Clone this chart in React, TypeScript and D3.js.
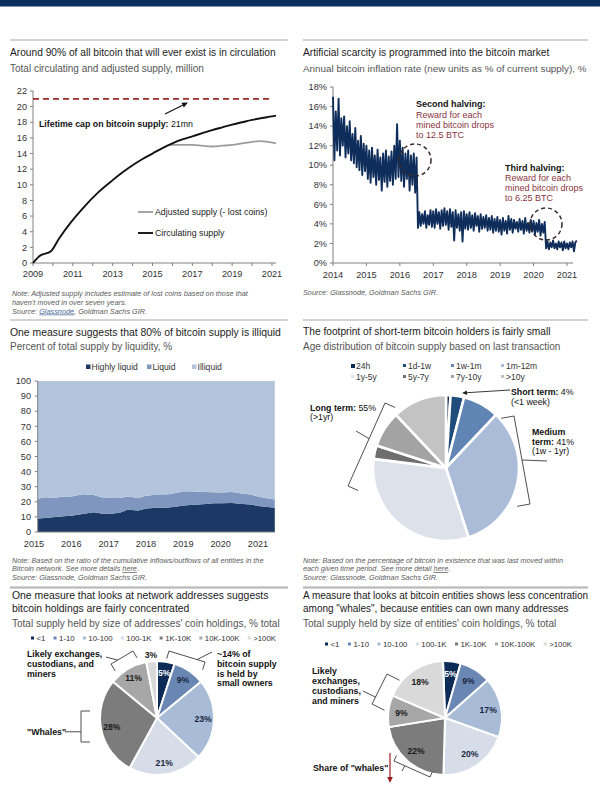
import React from 'react';
import * as d3 from 'd3';

const FONT = '"Liberation Sans", Arial, Helvetica, sans-serif';
const TITLE_C = '#1b1b1b';
const SUB_C = '#555555';
const NOTE_C = '#5a5a5a';
const AXIS_C = '#808080';
const TICK_C = '#333333';
const MAROON = '#8a3442';

// ---------- Chart 1: supply ----------
const supplyYears = [2009, 2009.33, 2009.9, 2010.3, 2010.9, 2011.5, 2012.3, 2013.0, 2013.5, 2014.0, 2014.5, 2015.0, 2015.5, 2016.0, 2016.5, 2017.0, 2017.5, 2018.0, 2018.5, 2019.0, 2019.5, 2020.0, 2020.5, 2021.0, 2021.2];
const circulatingSupply = [0, 0.9, 1.5, 3.1, 5.2, 7.0, 9.1, 10.6, 11.6, 12.5, 13.3, 14.0, 14.7, 15.3, 15.8, 16.2, 16.6, 17.0, 17.35, 17.7, 18.0, 18.3, 18.55, 18.75, 18.85];
const adjustedYears = [2015.8, 2016.2, 2016.6, 2017.0, 2017.5, 2018.0, 2018.5, 2019.0, 2019.5, 2020.0, 2020.4, 2020.8, 2021.2];
const adjustedSupply = [15.1, 15.1, 15.1, 15.1, 15.0, 14.9, 15.0, 15.1, 15.3, 15.5, 15.6, 15.5, 15.3];
const supplyCap = 21;
const supplyYTicks = [0, 2, 4, 6, 8, 10, 12, 14, 16, 18, 20, 22];
const supplyXTicks = [2009, 2011, 2013, 2015, 2017, 2019, 2021];

// ---------- Chart 2: inflation (half-monthly peaks/troughs from 2014) ----------
const inflationStart = 2014;
const inflationPerYear = 24;
const inflationRate = [
  17.0, 10.5, 15.5, 11.5, 16.8, 11.0, 14.8, 12.0, 15.0, 10.8, 14.0, 11.2, 14.5, 10.5, 13.2, 10.2, 13.8, 9.8, 12.5, 9.5, 13.0, 9.0, 12.2, 9.4,
  12.0, 8.6, 11.5, 8.2, 11.8, 8.8, 11.0, 8.0, 11.6, 8.5, 10.8, 7.4, 11.2, 8.3, 11.5, 7.8, 10.9, 8.4, 11.4, 8.0, 12.0, 8.6, 14.2, 8.8,
  12.5, 8.4, 11.8, 7.8, 11.2, 8.6, 11.5, 7.4, 11.0, 8.0, 11.2, 7.2, 10.8, 3.6, 5.2, 3.8, 5.0, 4.0, 5.3, 3.6, 4.9, 3.9, 5.4, 3.7,
  5.3, 3.6, 5.5, 4.0, 5.2, 3.5, 5.4, 3.8, 5.6, 3.9, 5.3, 3.4, 5.5, 3.7, 5.2, 2.3, 5.4, 3.6, 5.0, 3.3, 5.2, 2.2, 5.3, 3.5,
  5.0, 3.4, 5.2, 3.6, 4.9, 3.3, 5.1, 3.8, 4.8, 3.2, 5.0, 3.5, 4.7, 3.6, 4.9, 3.3, 4.6, 3.4, 4.8, 3.1, 4.5, 3.3, 4.7, 3.2,
  4.4, 2.9, 4.6, 3.3, 4.3, 3.0, 4.8, 3.4, 4.5, 3.1, 4.4, 3.5, 4.2, 3.2, 4.5, 3.4, 4.3, 3.0, 4.6, 3.3, 4.1, 3.1, 4.4, 3.2,
  4.3, 2.9, 4.1, 3.2, 4.4, 2.8, 4.0, 3.1, 4.2, 1.5, 2.2, 1.4, 2.1, 1.6, 2.3, 1.5, 2.0, 1.4, 2.2, 1.6, 2.1, 1.3, 2.2, 1.5,
  2.0, 1.4, 2.1, 1.6, 2.2, 1.2, 2.1, 2.3,
];
const inflYTicks = [0, 2, 4, 6, 8, 10, 12, 14, 16, 18];
const inflXTicks = [2014, 2015, 2016, 2017, 2018, 2019, 2020, 2021];

// ---------- Chart 3: liquidity ----------
const liqDates = [2015.1, 2015.3, 2015.5, 2015.8, 2016.0, 2016.3, 2016.6, 2016.8, 2017.0, 2017.3, 2017.5, 2017.8, 2018.0, 2018.3, 2018.6, 2018.8, 2019.0, 2019.3, 2019.6, 2019.8, 2020.0, 2020.3, 2020.6, 2020.8, 2021.0, 2021.2, 2021.45];
const highlyLiquid = [9, 9.3, 9.8, 10.5, 10.8, 12, 13, 12.3, 12, 12.8, 14.8, 14.3, 15.5, 16, 16.2, 16.8, 17.5, 18, 18.5, 19, 19, 19.2, 18.5, 18.2, 17.3, 16.8, 16];
const liquid = [13, 13.7, 12.7, 13, 12.7, 13, 11.5, 10.7, 10.5, 9.7, 8.7, 8.2, 8.5, 8.8, 8.8, 9, 9.5, 8.8, 8, 7.3, 7.2, 7.3, 6.8, 6.6, 6.2, 5.7, 5.5];
const illiquid = [78, 77, 77.5, 76.5, 76.5, 75, 75.5, 77, 77.5, 77.5, 76.5, 77.5, 76, 75.2, 75, 74.2, 73, 73.2, 73.5, 73.7, 73.8, 73.5, 74.7, 75.2, 76.5, 77.5, 78.5];
const liqKeys = ['Highly liquid', 'Liquid', 'Illiquid'];
const liqColors = ['#1c3865', '#7f97be', '#b4c4dd'];
const liqYTicks = [0, 10, 20, 30, 40, 50, 60, 70, 80, 90, 100];
const liqXTicks = [2015, 2016, 2017, 2018, 2019, 2020, 2021];

// ---------- Chart 4: age distribution ----------
const ageBands = ['24h', '1d-1w', '1w-1m', '1m-12m', '1y-5y', '5y-7y', '7y-10y', '>10y'];
const ageShares = [1, 3, 8, 33, 32, 3, 8, 12];
const ageColors = ['#0c2b57', '#1f4c7a', '#6084b3', '#aabcd8', '#dde2ea', '#6e6e6e', '#a3a3a3', '#c3c3c3'];

// ---------- Charts 5/6: holdings ----------
const sizeBands = ['<1', '1-10', '10-100', '100-1K', '1K-10K', '10K-100K', '>100K'];
const addressShares = [5, 9, 23, 21, 28, 11, 3];
const entityShares = [5, 9, 17, 20, 22, 9, 18];
const sizeColors = ['#0c2b57', '#6a87b4', '#a8bbd7', '#d6dde9', '#7c7c7c', '#a7a7a7', '#d9d9d9'];

// ---------- helpers ----------
let mctx: CanvasRenderingContext2D | null = null;
function measure(text: string, size: number, weight = 'normal') {
  try {
    if (!mctx) mctx = document.createElement('canvas').getContext('2d');
    if (mctx) {
      mctx.font = `${weight} ${size}px "Liberation Sans", Arial, sans-serif`;
      return mctx.measureText(text).width;
    }
  } catch (e) {}
  return text.length * size * 0.52;
}

function Arrow({ x1, y1, x2, y2, color = '#111', w = 1, head = 5, hw = 2.5 }: any) {
  const a = Math.atan2(y2 - y1, x2 - x1);
  const bx = x2 - head * Math.cos(a), by = y2 - head * Math.sin(a);
  const px = -Math.sin(a) * hw, py = Math.cos(a) * hw;
  return (
    <g>
      <line x1={x1} y1={y1} x2={bx} y2={by} stroke={color} strokeWidth={w} />
      <polygon points={`${x2},${y2} ${bx + px},${by + py} ${bx - px},${by - py}`} fill={color} />
    </g>
  );
}

function Bracket({ a, b, c, depth, tickAt = 0.5, tick, stroke = '#3a3a3a' }: any) {
  const dx = b[0] - a[0], dy = b[1] - a[1];
  const L = Math.hypot(dx, dy);
  let nx = -dy / L, ny = dx / L;
  const mx = (a[0] + b[0]) / 2, my = (a[1] + b[1]) / 2;
  if ((c[0] - mx) * nx + (c[1] - my) * ny < 0) { nx = -nx; ny = -ny; }
  let d = `M${a[0] + nx * depth},${a[1] + ny * depth}L${a[0]},${a[1]}L${b[0]},${b[1]}L${b[0] + nx * depth},${b[1] + ny * depth}`;
  if (tick) {
    const tx = a[0] + dx * tickAt, ty = a[1] + dy * tickAt;
    d += `M${tx},${ty}L${tick[0]},${tick[1]}`;
  }
  return <path d={d} fill="none" stroke={stroke} strokeWidth={0.9} />;
}

const Title = ({ x, y, children, size = 10.2 }: any) => <text x={x} y={y} fontSize={size} fill={TITLE_C}>{children}</text>;
const Sub = ({ x, y, children, size = 10 }: any) => <text x={x} y={y} fontSize={size} fill={SUB_C}>{children}</text>;
const Note = ({ x, y, children }: any) => <text x={x} y={y} fontSize={7.3} fontStyle="italic" fill={NOTE_C}>{children}</text>;
const Sep = ({ x1, x2, y }: any) => <line x1={x1} x2={x2} y1={y} y2={y} stroke="#9d9d9d" strokeWidth={0.9} />;

function Pie({ cx, cy, r, values, colors, labels, labelR, labelFills, startAngle = 0, sw = 2 }: any) {
  const arcs = d3.pie<number>().sort(null).startAngle(startAngle).endAngle(startAngle + Math.PI * 2)(values);
  const arc = d3.arc<d3.PieArcDatum<number>>().innerRadius(0).outerRadius(r);
  const lab = d3.arc<d3.PieArcDatum<number>>().innerRadius(labelR || r * 0.78).outerRadius(labelR || r * 0.78);
  return (
    <g transform={`translate(${cx},${cy})`}>
      {arcs.map((a, i) => (
        <path key={i} d={arc(a) || ''} fill={colors[i]} stroke="#fff" strokeWidth={sw} strokeLinejoin="round" />
      ))}
      {labels && arcs.map((a, i) => {
        if (!labels[i]) return null;
        const [lx, ly] = lab.centroid(a);
        return (
          <text key={'l' + i} x={lx} y={ly + 3} textAnchor="middle" fontSize={8.6} fontWeight="bold" fill={labelFills[i]}>{labels[i]}</text>
        );
      })}
    </g>
  );
}

function FlowLegend({ x, y, width, items, colors, size = 7.8 }: any) {
  const ws = items.map((t: string) => measure(t, size));
  const mark = 3, mgap = 2.5;
  const content = ws.reduce((s: number, w: number) => s + w + mark + mgap, 0);
  const gap = (width - content) / (items.length - 1);
  let cx = x;
  return (
    <g>
      {items.map((t: string, i: number) => {
        const x0 = cx;
        cx += mark + mgap + ws[i] + gap;
        return (
          <g key={t}>
            <rect x={x0} y={y - 4.5} width={mark} height={mark} fill={colors[i]} />
            <text x={x0 + mark + mgap} y={y} fontSize={size} fill="#333">{t}</text>
          </g>
        );
      })}
    </g>
  );
}

// ---------- panels ----------
function SupplyPanel() {
  const x = d3.scaleLinear().domain([2009, 2021]).range([33, 272]);
  const y = d3.scaleLinear().domain([0, 22]).range([263, 91]);
  const circ = d3.line<number>().x((_, i) => x(supplyYears[i])).y(d => y(d)).curve(d3.curveMonotoneX)(circulatingSupply) || '';
  const adj = d3.line<number>().x((_, i) => x(adjustedYears[i])).y(d => y(d)).curve(d3.curveMonotoneX)(adjustedSupply) || '';
  const years = d3.range(2009, 2022);
  return (
    <g>
      <Sep x1={10} x2={288} y={40} />
      <Title x={10} y={55.6}>Around 90% of all bitcoin that will ever exist is in circulation</Title>
      <Sub x={10} y={71.5}>Total circulating and adjusted supply, million</Sub>
      <line x1={x(2009)} x2={x(2009)} y1={y(22)} y2={y(0)} stroke={AXIS_C} />
      <line x1={x(2009)} x2={x(2021) + 4} y1={y(0)} y2={y(0)} stroke={AXIS_C} />
      {supplyYTicks.map(t => (
        <g key={t}>
          <line x1={x(2009) - 3} x2={x(2009)} y1={y(t)} y2={y(t)} stroke={AXIS_C} />
          <text x={x(2009) - 6} y={y(t) + 3.2} textAnchor="end" fontSize={9.2} fill={TICK_C}>{t}</text>
        </g>
      ))}
      {years.map(t => <line key={t} x1={x(t)} x2={x(t)} y1={y(0)} y2={y(0) + 3} stroke={AXIS_C} />)}
      {supplyXTicks.map(t => <text key={t} x={x(t)} y={277} textAnchor="middle" fontSize={9.2} fill={TICK_C}>{t}</text>)}
      <line x1={x(2009)} x2={x(2021)} y1={y(supplyCap)} y2={y(supplyCap)} stroke="#9e2a2b" strokeWidth={1.8} strokeDasharray="6,4" />
      <path d={adj} fill="none" stroke="#9c9c9c" strokeWidth={1.8} />
      <path d={circ} fill="none" stroke="#111" strokeWidth={1.9} />
      <Arrow x1={165} y1={114} x2={188} y2={102.5} w={1.2} head={6} hw={2.6} />
      <text x={39} y={126.5} fontSize={8.8} fill="#111"><tspan fontWeight="bold">Lifetime cap on bitcoin supply:</tspan> 21mn</text>
      <line x1={138} x2={153} y1={212} y2={212} stroke="#9c9c9c" strokeWidth={1.8} />
      <text x={155} y={215} fontSize={8.8} fill="#222">Adjusted supply (- lost coins)</text>
      <line x1={138} x2={153} y1={233} y2={233} stroke="#111" strokeWidth={1.9} />
      <text x={155} y={236} fontSize={8.8} fill="#222">Circulating supply</text>
      <Note x={12} y={295.5}>Note: Adjusted supply includes estimate of lost coins based on those that</Note>
      <Note x={12} y={304.5}>haven't moved in over seven years.</Note>
      <Note x={12} y={313.5}>Source: <tspan textDecoration="underline" fill="#4a6a9a">Glassnode</tspan>, Goldman Sachs GIR.</Note>
    </g>
  );
}

function InflationPanel() {
  const x = d3.scaleLinear().domain([2014, 2021]).range([333, 567]);
  const y = d3.scaleLinear().domain([0, 18]).range([263, 87]);
  const path = d3.line<number>().x((_, i) => x(inflationStart + i / inflationPerYear)).y(d => y(d))(inflationRate) || '';
  const years = d3.range(2014, 2022);
  return (
    <g>
      <Sep x1={303} x2={588} y={40} />
      <Title x={303} y={55.6}>Artificial scarcity is programmed into the bitcoin market</Title>
      <Sub x={303} y={71.5} size={9.85}>Annual bitcoin inflation rate (new units as % of current supply), %</Sub>
      <line x1={x(2014)} x2={x(2014)} y1={y(18)} y2={y(0)} stroke={AXIS_C} />
      <line x1={x(2014)} x2={x(2021) + 6} y1={y(0)} y2={y(0)} stroke={AXIS_C} />
      {inflYTicks.map(t => (
        <g key={t}>
          <line x1={x(2014) - 3} x2={x(2014)} y1={y(t)} y2={y(t)} stroke={AXIS_C} />
          <text x={x(2014) - 6} y={y(t) + 3.2} textAnchor="end" fontSize={9.2} fill={TICK_C}>{t}%</text>
        </g>
      ))}
      {years.map(t => <line key={t} x1={x(t)} x2={x(t)} y1={y(0)} y2={y(0) + 3} stroke={AXIS_C} />)}
      {inflXTicks.map(t => <text key={t} x={x(t)} y={277.5} textAnchor="middle" fontSize={9.2} fill={TICK_C}>{t}</text>)}
      <path d={path} fill="none" stroke="#0f2d5a" strokeWidth={1.9} strokeLinejoin="round" />
      <circle cx={415} cy={160} r={16} fill="none" stroke="#3a2a2c" strokeWidth={1.5} strokeDasharray="4,3" />
      <circle cx={546} cy={224} r={16} fill="none" stroke="#3a2a2c" strokeWidth={1.5} strokeDasharray="4,3" />
      <text x={416} y={107} fontSize={9} fontWeight="bold" fill="#111">Second halving:</text>
      <text x={416} y={118} fontSize={9} fill={MAROON}>Reward for each</text>
      <text x={416} y={128} fontSize={9} fill={MAROON}>mined bitcoin drops</text>
      <text x={416} y={137.5} fontSize={9} fill={MAROON}>to 12.5 BTC</text>
      <text x={505} y={171} fontSize={9} fontWeight="bold" fill="#111">Third halving:</text>
      <text x={505} y={180.5} fontSize={9} fill={MAROON}>Reward for each</text>
      <text x={505} y={191} fontSize={9} fill={MAROON}>mined bitcoin drops</text>
      <text x={505} y={201} fontSize={9} fill={MAROON}>to 6.25 BTC</text>
      <Note x={303} y={294.5}>Source: Glassnode, Goldman Sachs GIR.</Note>
    </g>
  );
}

function LiquidityPanel() {
  const x = d3.scaleLinear().domain([2015, 2021]).range([34, 258]);
  const y = d3.scaleLinear().domain([0, 100]).range([532, 381]);
  const rows = liqDates.map((d, i) => ({ date: d, 'Highly liquid': highlyLiquid[i], Liquid: liquid[i], Illiquid: illiquid[i] }));
  const series = d3.stack<any>().keys(liqKeys)(rows);
  const area = d3.area<any>().x(d => x(d.data.date)).y0(d => y(d[0])).y1(d => y(d[1]));
  const x0 = x(liqDates[0]);
  const legendX = [86, 147, 192];
  return (
    <g>
      <Sep x1={10} x2={288} y={320} />
      <Title x={10} y={335.6} size={10.4}>One measure suggests that 80% of bitcoin supply is illiquid</Title>
      <Sub x={10} y={349.5}>Percent of total supply by liquidity, %</Sub>
      {liqKeys.map((k, i) => (
        <g key={k}>
          <rect x={legendX[i]} y={364.5} width={4.5} height={4.5} fill={liqColors[i]} />
          <text x={legendX[i] + 5.5} y={370} fontSize={8.6} fill="#333">{k}</text>
        </g>
      ))}
      {series.map((s, i) => <path key={i} d={area(s) || ''} fill={liqColors[i]} />)}
      <line x1={x0} x2={x0} y1={y(100)} y2={y(0)} stroke={AXIS_C} />
      <line x1={x0} x2={x(2021.45)} y1={y(0)} y2={y(0)} stroke={AXIS_C} />
      {liqYTicks.map(t => (
        <g key={t}>
          <line x1={x0 - 3} x2={x0} y1={y(t)} y2={y(t)} stroke={AXIS_C} />
          <text x={31} y={y(t) + 3.2} textAnchor="end" fontSize={9.2} fill={TICK_C}>{t}</text>
        </g>
      ))}
      {liqXTicks.map(t => <text key={t} x={x(t)} y={546.5} textAnchor="middle" fontSize={9.2} fill={TICK_C}>{t}</text>)}
      <Note x={12} y={562.5}>Note: Based on the ratio of the cumulative inflows/outflows of all entities in the</Note>
      <Note x={12} y={571}>Bitcoin network. See more details <tspan textDecoration="underline">here</tspan>.</Note>
      <Note x={12} y={579.5}>Source: Glassnode, Goldman Sachs GIR.</Note>
      <Sep x1={10} x2={288} y={587} />
    </g>
  );
}

function AgePanel() {
  const colX = [351, 403, 451, 501];
  return (
    <g>
      <Sep x1={303} x2={588} y={320} />
      <Title x={303} y={334.6}>The footprint of short-term bitcoin holders is fairly small</Title>
      <Sub x={303} y={349.5}>Age distribution of bitcoin supply based on last transaction</Sub>
      {ageBands.map((b, i) => {
        const cx = colX[i % 4];
        const cy = i < 4 ? 369 : 380;
        return (
          <g key={b}>
            <rect x={cx} y={cy - 5} width={i === 0 ? 4 : 3} height={i === 0 ? 4 : 3} fill={ageColors[i]} />
            <text x={cx + 5} y={cy} fontSize={8.5} fill="#333">{b}</text>
          </g>
        );
      })}
      <Pie cx={446} cy={468} r={73} values={ageShares} colors={ageColors} sw={2.6} />
      <Arrow x1={510} y1={390} x2={462} y2={393} w={0.9} head={5} hw={2.3} color="#222" />
      <text x={511} y={395} fontSize={8.8} fill="#111"><tspan fontWeight="bold">Short term:</tspan> 4%</text>
      <text x={511} y={405} fontSize={8.8} fill="#111">(&lt;1 week)</text>
      <Bracket a={[514, 416]} b={[530, 504]} c={[446, 468]} depth={13} tickAt={0.5} tick={[547, 461]} />
      <text x={532} y={435} fontSize={8.8} fontWeight="bold" fill="#111">Medium</text>
      <text x={532} y={444.5} fontSize={8.8} fill="#111"><tspan fontWeight="bold">term:</tspan> 41%</text>
      <text x={532} y={454} fontSize={8.8} fill="#111">(1w - 1yr)</text>
      <Bracket a={[385, 403]} b={[348, 486]} c={[446, 468]} depth={11} tickAt={0.43} tick={[356, 431]} />
      <text x={310} y={411} fontSize={8.8} fill="#111"><tspan fontWeight="bold">Long term:</tspan> 55%</text>
      <text x={310} y={420} fontSize={8.8} fill="#111">(&gt;1yr)</text>
      <Note x={303} y={562.5}>Note: Based on the percentage of bitcoin in existence that was last moved within</Note>
      <Note x={303} y={571}>each given time period. See more detail <tspan textDecoration="underline">here</tspan>.</Note>
      <Note x={303} y={579.5}>Source: Glassnode, Goldman Sachs GIR.</Note>
      <Sep x1={303} x2={588} y={587} />
    </g>
  );
}

const pct = (v: number) => `${v}%`;
const labelFills = ['#ffffff', '#1a2740', '#1a2740', '#1a2740', '#1a1a1a', '#1a1a1a', '#1a1a1a'];

function AddressPanel() {
  const labels = addressShares.map((v, i) => (i === 6 ? '' : pct(v)));
  return (
    <g>
      <Title x={12} y={598.6} size={10.4}>One measure that looks at network addresses suggests</Title>
      <Title x={12} y={611.6} size={10.4}>bitcoin holdings are fairly concentrated</Title>
      <Sub x={12} y={626.5}>Total supply held by size of addresses' coin holdings, % total</Sub>
      <FlowLegend x={31} y={641} width={245} items={sizeBands} colors={sizeColors} />
      <Pie cx={157} cy={718} r={57} values={addressShares} colors={sizeColors} labels={labels} labelR={46} labelFills={labelFills} sw={2} />
      <text x={151} y={658} textAnchor="middle" fontSize={8.6} fontWeight="bold" fill="#1a1a1a">{pct(addressShares[6])}</text>
      <Bracket a={[111, 664]} b={[133, 651]} c={[157, 718]} depth={8} tickAt={0.3} tick={[106, 657]} />
      <Bracket a={[169, 651]} b={[205, 662]} c={[157, 718]} depth={8} tickAt={0.78} tick={[212, 652]} />
      <Bracket a={[81, 711]} b={[81, 742]} c={[157, 718]} depth={9} tickAt={0.67} tick={[65, 731.8]} />
      <g fontSize={8.8} fontWeight="bold" fill="#111">
        <text x={27} y={657}>Likely exchanges,</text>
        <text x={27} y={667}>custodians, and</text>
        <text x={27} y={676.5}>miners</text>
        <text x={217} y={657}>~14% of</text>
        <text x={217} y={667}>bitcoin supply</text>
        <text x={217} y={676.5}>is held by</text>
        <text x={217} y={686}>small owners</text>
        <text x={27} y={735}>"Whales"</text>
      </g>
    </g>
  );
}

function EntityPanel() {
  const labels = entityShares.map(v => pct(v));
  return (
    <g>
      <Sep x1={303} x2={588} y={588} />
      <Title x={303} y={598.6} size={10}>A measure that looks at bitcoin entities shows less concentration</Title>
      <Title x={303} y={611.6} size={10}>among "whales", because entities can own many addresses</Title>
      <Sub x={303} y={626.5}>Total supply held by size of entities' coin holdings, % total</Sub>
      <FlowLegend x={325} y={647} width={247} items={sizeBands} colors={sizeColors} />
      <Pie cx={445} cy={718} r={57} values={entityShares} colors={sizeColors} labels={labels} labelR={44} labelFills={labelFills} startAngle={-0.035} sw={2} />
      <Bracket a={[387, 674]} b={[372, 704]} c={[445, 718]} depth={14} tickAt={0.77} tick={[363, 691]} />
      <Bracket a={[394, 761]} b={[430, 777]} c={[445, 718]} depth={6} tickAt={0.3} tick={[402, 771]} />
      <Arrow x1={390} y1={753} x2={390} y2={783} color="#9e1b20" w={1.2} head={6} hw={2.8} />
      <g fontSize={8.8} fontWeight="bold" fill="#111">
        <text x={312} y={674}>Likely</text>
        <text x={312} y={684}>exchanges,</text>
        <text x={312} y={694}>custodians,</text>
        <text x={312} y={703.5}>and miners</text>
        <text x={313} y={771}>Share of "whales"</text>
      </g>
    </g>
  );
}

export default function App() {
  return (
    <div style={{ position: 'absolute', left: 0, top: 0, width: 600, height: 796, background: '#fff' }}>
      <svg width={600} height={796} style={{ display: 'block' }} fontFamily={FONT}>
        <rect x={0} y={0} width={600} height={796} fill="#fff" />
        <rect x={0} y={0} width={600} height={6.5} fill="#0b2f5e" />
        <SupplyPanel />
        <InflationPanel />
        <LiquidityPanel />
        <AgePanel />
        <AddressPanel />
        <EntityPanel />
        <line x1={10} x2={288} y1={588} y2={588} stroke="#9d9d9d" strokeWidth={0.9} />
      </svg>
    </div>
  );
}
